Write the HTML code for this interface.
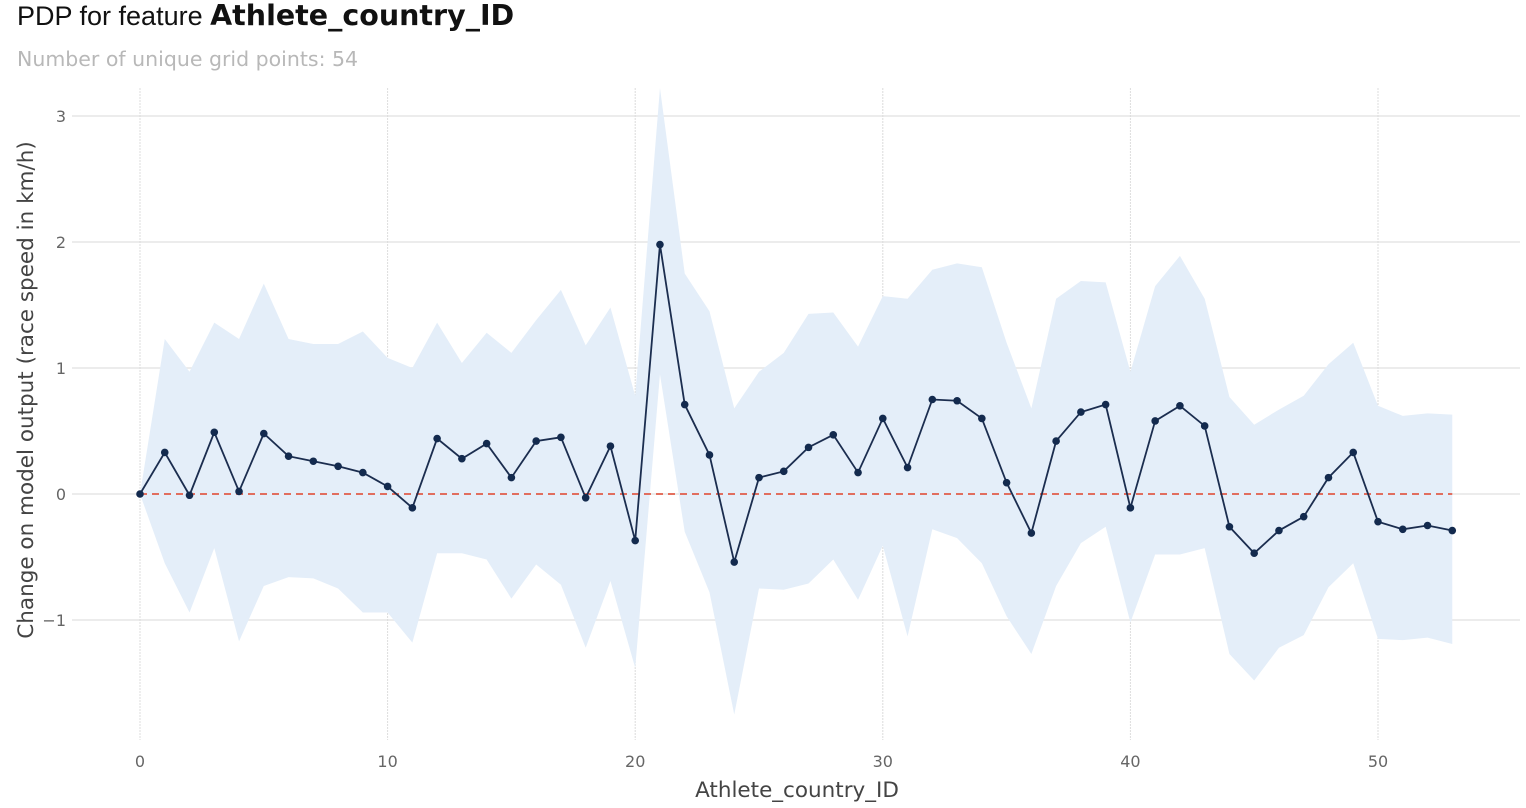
<!DOCTYPE html>
<html><head><meta charset="utf-8">
<style>
html,body{margin:0;padding:0;background:#fff;}
body{width:1526px;height:803px;overflow:hidden;font-family:"Liberation Sans",sans-serif;}
</style></head>
<body>
<svg id="chart" width="1526" height="803" xmlns="http://www.w3.org/2000/svg">
<text x="17" y="25" font-size="27" fill="#111" font-family="Liberation Sans, sans-serif">PDP for feature <tspan font-weight="bold" font-size="28.5" font-family="DejaVu Sans, sans-serif">Athlete_country_ID</tspan></text>
<text x="17" y="66" font-size="20.5" fill="#b8b8b8" font-family="DejaVu Sans, sans-serif">Number of unique grid points: 54</text>
<g id="grid"></g>
<g id="band"></g>
<g id="ref"></g>
<g id="series"></g>
<g id="axes"></g>
<text x="797" y="797" font-size="21.5" fill="#444" text-anchor="middle" font-family="DejaVu Sans, sans-serif">Athlete_country_ID</text>
<text transform="translate(33,390) rotate(-90)" font-size="21.5" fill="#444" text-anchor="middle" font-family="DejaVu Sans, sans-serif">Change on model output (race speed in km/h)</text>
</svg>
<script>
const xTicks=[0,10,20,30,40,50];
const yTicks=[-1,0,1,2,3];
const pdpMean=[0,0.33,-0.01,0.49,0.02,0.48,0.30,0.26,0.22,0.17,0.06,-0.11,0.44,0.28,0.40,0.13,0.42,0.45,-0.03,0.38,-0.37,1.98,0.71,0.31,-0.54,0.13,0.18,0.37,0.47,0.17,0.60,0.21,0.75,0.74,0.60,0.09,-0.31,0.42,0.65,0.71,-0.11,0.58,0.70,0.54,-0.26,-0.47,-0.29,-0.18,0.13,0.33,-0.22,-0.28,-0.25,-0.29];
const bandUpper=[0,1.23,0.97,1.36,1.23,1.67,1.23,1.19,1.19,1.29,1.08,1.00,1.36,1.04,1.28,1.12,1.38,1.62,1.18,1.48,0.78,3.4,1.75,1.45,0.68,0.97,1.12,1.43,1.44,1.17,1.57,1.55,1.78,1.83,1.80,1.20,0.68,1.55,1.69,1.68,0.97,1.65,1.89,1.55,0.77,0.55,0.67,0.78,1.03,1.20,0.70,0.62,0.64,0.63];
const bandLower=[0,-0.55,-0.94,-0.43,-1.17,-0.73,-0.66,-0.67,-0.75,-0.94,-0.94,-1.18,-0.47,-0.47,-0.52,-0.83,-0.56,-0.72,-1.22,-0.69,-1.38,0.95,-0.30,-0.78,-1.75,-0.75,-0.76,-0.71,-0.52,-0.84,-0.41,-1.13,-0.28,-0.35,-0.55,-0.97,-1.27,-0.73,-0.39,-0.26,-1.02,-0.48,-0.48,-0.43,-1.27,-1.48,-1.22,-1.12,-0.74,-0.55,-1.15,-1.16,-1.14,-1.19];

const NS='http://www.w3.org/2000/svg';
const X0=140,XS=(1378-140)/50,Y0=494,YS=126,TOP=88,BOT=740;
const sx=v=>X0+v*XS, sy=v=>Math.max(TOP,Y0-v*YS);
function mk(tag,attrs,parent){const e=document.createElementNS(NS,tag);for(const k in attrs)e.setAttribute(k,attrs[k]);parent.appendChild(e);return e;}
const grid=document.getElementById('grid'),axes=document.getElementById('axes');
yTicks.forEach(t=>{
  const l=mk('line',{x1:72,x2:1520,y1:Y0-t*YS,y2:Y0-t*YS,stroke:'#e6e6e6','stroke-width':1.5},grid);
  
  
  const tx=mk('text',{x:66,y:Y0-t*YS+6,'font-size':16,fill:'#666','text-anchor':'end','font-family':'DejaVu Sans, sans-serif'},axes);
  tx.textContent=t===-1?'\u22121':String(t);
  
  
});
xTicks.forEach(t=>{
  const l=mk('line',{x1:sx(t),x2:sx(t),y1:TOP,y2:BOT,stroke:'#dcdcdc','stroke-width':1,'stroke-dasharray':'2,1'},grid);
  
  
  const tx=mk('text',{x:sx(t),y:767,'font-size':16,fill:'#666','text-anchor':'middle','font-family':'DejaVu Sans, sans-serif'},axes);
  tx.textContent=String(t);
  
  
});
let pts=bandUpper.map((v,i)=>sx(i)+','+sy(v));
for(let i=bandLower.length-1;i>=0;i--)pts.push(sx(i)+','+sy(bandLower[i]));
const poly=mk('polygon',{points:pts.join(' '),fill:'#e4eef9',stroke:'none'},document.getElementById('band'));


const ref=mk('line',{x1:sx(0),x2:sx(pdpMean.length-1),y1:sy(0),y2:sy(0),stroke:'#e0442c','stroke-width':1.5,'stroke-dasharray':'7,5'},document.getElementById('ref'));


const ser=document.getElementById('series');
const pl=mk('polyline',{points:pdpMean.map((v,i)=>sx(i)+','+sy(v)).join(' '),fill:'none',stroke:'#1b2d4f','stroke-width':1.8},ser);


pdpMean.forEach((v,i)=>{
  const c=mk('circle',{cx:sx(i),cy:sy(v),r:3.8,fill:'#132a4e'},ser);
  
  
});
</script>
</body></html>
